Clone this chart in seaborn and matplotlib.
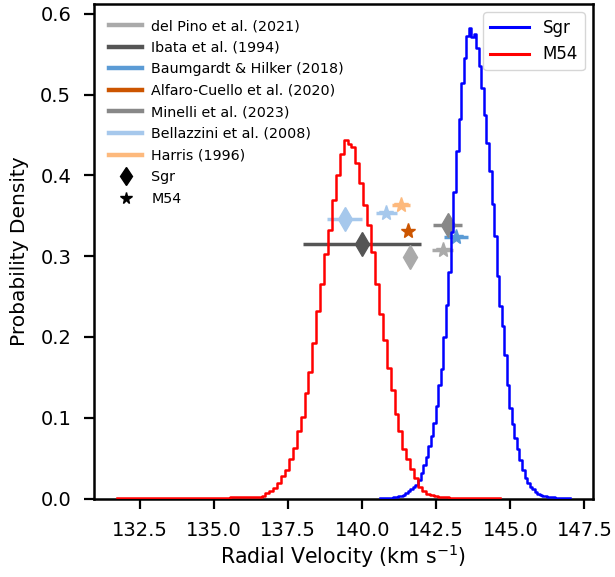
import numpy as np
import pandas as pd
import matplotlib
matplotlib.use("Agg")
import matplotlib.pyplot as plt
from matplotlib.lines import Line2D
import seaborn as sns

# ---------------- data ----------------
# M54 posterior histogram (probability density per bin)
m54_start, m54_width = 131.72, 0.132
m54_density = [
    0.0002, 0.0001, 0.0002, 0.0002, 0.0002, 0.0002, 0.0003, 0.0002, 0.0003, 0.0003,
    0.0003, 0.0003, 0.0004, 0.0004, 0.0004, 0.0005, 0.0005, 0.0005, 0.0006, 0.0006,
    0.0007, 0.0007, 0.0008, 0.0008, 0.0009, 0.0010, 0.0010, 0.0011, 0.0012, 0.0013,
    0.0014, 0.0015, 0.0017, 0.0019, 0.0020, 0.0021, 0.0024, 0.0030, 0.0064, 0.0097,
    0.0126, 0.0188, 0.028, 0.035, 0.049, 0.062, 0.083, 0.101, 0.131, 0.157,
    0.192, 0.232, 0.266, 0.303, 0.332, 0.369, 0.400, 0.427, 0.444, 0.439,
    0.435, 0.415, 0.390, 0.363, 0.338, 0.305, 0.266, 0.229, 0.196, 0.161,
    0.134, 0.105, 0.083, 0.061, 0.0485, 0.036, 0.025, 0.0146, 0.0097, 0.0056,
    0.0045, 0.0030, 0.0020, 0.0016, 0.0013, 0.0011, 0.0010, 0.0009, 0.0008, 0.0007,
    0.0006, 0.0005, 0.0005, 0.0004, 0.0003, 0.0003, 0.0002, 0.0002,
]

# Sgr posterior histogram
sgr_start, sgr_width = 140.60, 0.0856
sgr_density = [
    0.0003, 0.0005, 0.0007, 0.0009, 0.0012, 0.0015, 0.0020, 0.0028, 0.0036, 0.0048,
    0.0065, 0.0088, 0.0116, 0.0143, 0.017, 0.023, 0.031, 0.041, 0.052, 0.065,
    0.077, 0.094, 0.115, 0.140, 0.160, 0.200, 0.240, 0.280, 0.330, 0.380,
    0.430, 0.470, 0.515, 0.545, 0.573, 0.583, 0.571, 0.575, 0.558, 0.535,
    0.508, 0.475, 0.440, 0.405, 0.365, 0.325, 0.275, 0.238, 0.213, 0.178,
    0.140, 0.112, 0.092, 0.075, 0.061, 0.048, 0.035, 0.026, 0.019, 0.014,
    0.0115, 0.0085, 0.0062, 0.0042, 0.0033, 0.0026, 0.0020, 0.0016, 0.0013, 0.0010,
    0.0008, 0.0006, 0.0005, 0.0003, 0.0002,
]

# literature references
ref_names = ["del Pino et al. (2021)", "Ibata et al. (1994)", "Baumgardt & Hilker (2018)",
             "Alfaro-Cuello et al. (2020)", "Minelli et al. (2023)",
             "Bellazzini et al. (2008)", "Harris (1996)"]
ref_colors = ["#aaaaaa", "#555555", "#5b9bd5", "#cc5500", "#888888", "#a6c8ec", "#fdb97d"]

# Sgr literature values: reference, velocity, error, vertical placement
sgr_refs = ["del Pino et al. (2021)", "Ibata et al. (1994)", "Minelli et al. (2023)", "Bellazzini et al. (2008)"]
sgr_vel = [141.61, 140.0, 142.89, 139.41]
sgr_err = [0.10, 2.0, 0.49, 0.58]
sgr_ypos = [0.299, 0.315, 0.338, 0.346]

# M54 literature values
m54_refs = ["del Pino et al. (2021)", "Baumgardt & Hilker (2018)", "Alfaro-Cuello et al. (2020)",
            "Bellazzini et al. (2008)", "Harris (1996)"]
m54_vel = [142.72, 143.16, 141.54, 140.82, 141.30]
m54_err = [0.35, 0.40, 0.10, 0.35, 0.30]
m54_ypos = [0.308, 0.324, 0.331, 0.353, 0.363]

# ---------------- plot ----------------
color_of = dict(zip(ref_names, ref_colors))

fig = plt.figure(figsize=(6.15, 5.77), dpi=100)
ax = fig.add_axes([0.153, 0.136, 0.811, 0.857])

for r, v, e, yy in zip(sgr_refs, sgr_vel, sgr_err, sgr_ypos):
    ax.errorbar(v, yy, xerr=e, fmt="d", color=color_of[r], ms=12, elinewidth=2.5, capsize=0)
for r, v, e, yy in zip(m54_refs, m54_vel, m54_err, m54_ypos):
    ax.errorbar(v, yy, xerr=e, fmt="*", color=color_of[r], ms=11, elinewidth=2.5, capsize=0)


def hist_frame(start, width, dens):
    n = len(dens)
    centers = start + width * (np.arange(n) + 0.5)
    return pd.DataFrame({"v": centers, "w": dens}), (start, start + width * n), n


sgr_df, sgr_range, sgr_n = hist_frame(sgr_start, sgr_width, sgr_density)
m54_df, m54_range, m54_n = hist_frame(m54_start, m54_width, m54_density)

sns.histplot(data=sgr_df, x="v", weights="w", bins=sgr_n, binrange=sgr_range,
             element="step", fill=False, color="blue", linewidth=1.8, zorder=3, ax=ax)
sns.histplot(data=m54_df, x="v", weights="w", bins=m54_n, binrange=m54_range,
             element="step", fill=False, color="red", linewidth=1.8, zorder=3, ax=ax)

ax.relim()
ax.autoscale_view()
ax.set_ylim(0, ax.get_ylim()[1])

ax.set_xlabel(r"Radial Velocity (km s$^{-1}$)", fontsize=14.8, labelpad=1.5)
ax.set_ylabel("Probability Density", fontsize=14.5, labelpad=8)
ax.tick_params(axis="both", labelsize=14, length=7.5, width=1.6, pad=9)
for s in ax.spines.values():
    s.set_linewidth(1.8)

h1 = [Line2D([], [], color=c, lw=3.2) for c in ref_colors]
h1 += [Line2D([], [], color="black", marker="d", ls="", ms=9.5),
       Line2D([], [], color="black", marker="*", ls="", ms=8.5)]
l1 = ax.legend(h1, ref_names + ["Sgr", "M54"], loc="upper left", frameon=False,
               fontsize=10.3, handlelength=2.3, handletextpad=0.65, labelspacing=0.53,
               borderpad=0.55)
ax.add_artist(l1)

h2 = [Line2D([], [], color="blue", lw=2.2), Line2D([], [], color="red", lw=2.2)]
ax.legend(h2, ["Sgr", "M54"], loc="upper right", fontsize=12, handlelength=2.35,
          handletextpad=0.8)

fig.savefig("out.png", dpi=100)
